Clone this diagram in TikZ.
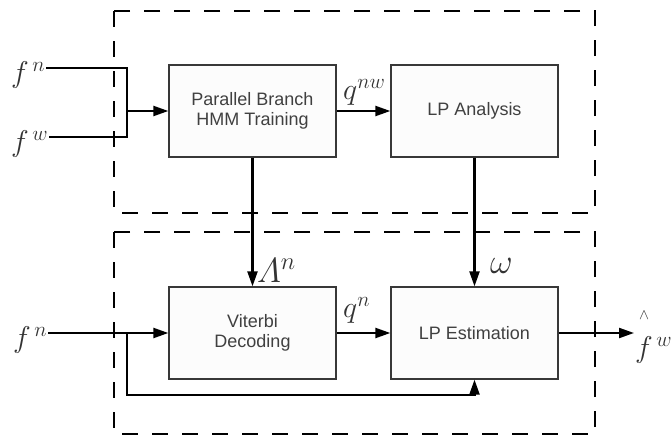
\documentclass[tikz,border=0pt]{standalone}
\usepackage{fix-cm}
\usepackage{amsmath}
\usepackage[no-math]{fontspec}
\newfontfamily\boxfont{Liberation Sans}
\usetikzlibrary{arrows.meta}
\begin{document}
\begin{tikzpicture}[x=1pt,y=-1pt,
  blk/.style={draw=black!78, line width=1.3pt, fill=black!1, minimum width=167pt, minimum height=92pt, inner sep=0pt, align=center, font=\boxfont\fontsize{18}{20}\selectfont, text=black!75},
  wire/.style={line width=2.2pt},
  arr/.style={wire, -{Triangle[length=15pt,width=10pt]}},
  grp/.style={draw, line width=2.2pt, dash pattern=on 16pt off 14pt},
  lbl/.style={inner sep=1pt, font=\fontsize{30}{30}\selectfont, text=black!80},
  biglbl/.style={lbl, font=\fontsize{35}{35}\selectfont}]
\useasboundingbox (0,0) rectangle (672,439);
% group frames
\draw[grp] (114,11) rectangle (595,213);
\draw[grp] (114,232) rectangle (595,434);
% blocks
\node[blk] (hmm) at (252.5,111) {Parallel Branch\\HMM Training};
\node[blk] (lpa) at (474.5,111) {LP Analysis};
\node[blk] (vit) at (252.5,333) {Viterbi\\Decoding};
\node[blk] (lpe) at (474.5,333) {LP Estimation};
% labels
\node[lbl, anchor=base west] (fn1) at (10,82) {$f^{\,n}$};
\node[lbl, anchor=base west] (fw1) at (10,151) {$f^{\,w}$};
\node[lbl, anchor=base west] (fn2) at (12,347) {$f^{\,n}$};
\node[lbl, anchor=base west] (qnw) at (342,99) {$q^{nw}$};
\node[biglbl, anchor=base west] (lam) at (256,282) {$\varLambda^{n}$};
\node[biglbl, anchor=base west] (om) at (489,273) {$\omega$};
\node[lbl, anchor=base west] (qn) at (342,317) {$q^{n}$};
\node[lbl, anchor=base west] (fwh) at (634,357) {$\overset{\raisebox{12pt}{$\scriptscriptstyle\wedge$}}{f}{}^{\,w}$};
% junctions
\coordinate (j1) at (127,68);
\coordinate (j2) at (127,137);
\coordinate (jm) at (127,111);
\coordinate (j3) at (127,333);
\coordinate (j4) at (127,395);
% connectors
\draw[wire] (fn1.east |- j1) -- (j1) -- (j2) -- (fw1.east |- j2);
\draw[arr] (jm) -- (hmm.west);
\draw[arr] (hmm.east) -- (lpa.west);
\draw[arr] (hmm.south) -- (vit.north);
\draw[arr] (lpa.south) -- (lpe.north);
\draw[arr] (fn2.east |- vit.west) -- (vit.west);
\draw[arr] (j3) -- (j4) -- (j4 -| lpe.south) -- (lpe.south);
\draw[arr] (vit.east) -- (lpe.west);
\draw[arr] (lpe.east) -- (fwh.west |- lpe.east);
\end{tikzpicture}
\end{document}
